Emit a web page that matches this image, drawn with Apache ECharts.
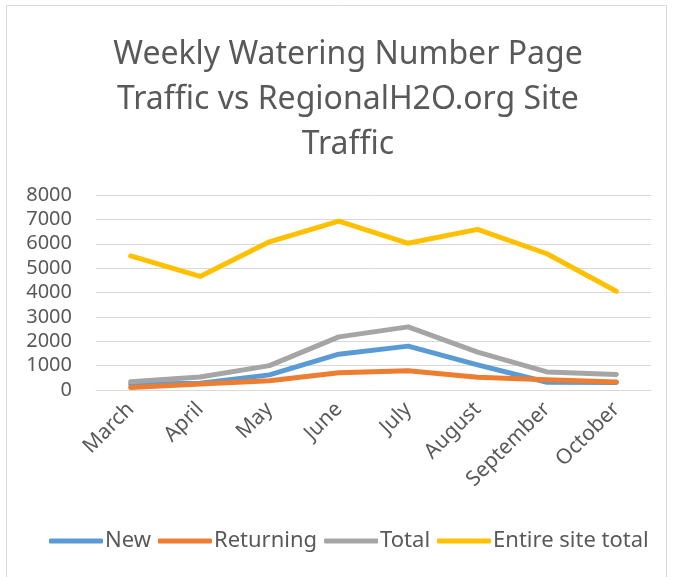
<!DOCTYPE html>
<html>
<head>
<meta charset="utf-8">
<script src="https://cdn.jsdelivr.net/npm/echarts@6/dist/echarts.min.js"></script>
<style>
  html, body { margin: 0; padding: 0; background: #fff; }
  #chart { width: 673px; height: 577px; }
</style>
</head>
<body>
<div id="chart"></div>
<script>
const months = ["March", "April", "May", "June", "July", "August", "September", "October"];
const newVisits = [240, 280, 620, 1470, 1800, 1030, 320, 310];
const returning = [100, 250, 380, 710, 790, 520, 420, 330];
const total = [340, 530, 1000, 2180, 2590, 1550, 740, 640];
const entireSite = [5500, 4660, 6080, 6930, 6020, 6590, 5590, 4050];
const yTicks = [0, 8000, 1000]; // min, max, step

const textColor = "#595959";
const font = "Noto Sans";

const mkLine = (name, data, color) => ({
  name: name,
  type: "line",
  data: data,
  symbol: "none",
  lineStyle: { color: color, width: 5, cap: "round", join: "round" },
  itemStyle: { color: color },
});

const chart = echarts.init(document.getElementById("chart"));
chart.setOption({
  backgroundColor: "#fff",
  animation: false,
  title: {
    text: "Weekly Watering Number Page\nTraffic vs RegionalH2O.org Site\nTraffic",
    left: 343,
    top: 27,
    textAlign: "center",
    textStyle: {
      color: textColor,
      fontFamily: font,
      fontWeight: "normal",
      fontSize: 32,
      lineHeight: 45,
    },
  },
  graphic: [
    {
      type: "rect",
      shape: { x: 6.5, y: 5.5, width: 660, height: 575 },
      style: { fill: "none", stroke: "#d9d9d9", lineWidth: 1 },
      silent: true,
    },
  ],
  grid: { left: 96, right: 22, top: 195, bottom: 187 },
  legend: {
    bottom: 20,
    left: 44,
    itemWidth: 54,
    itemHeight: 5,
    itemGap: 7,
    icon: "roundRect",
    textStyle: { color: textColor, fontFamily: font, fontSize: 22, padding: [0, 0, 0, -3] },
    data: ["New", "Returning", "Total", "Entire site total"],
  },
  xAxis: {
    type: "category",
    data: months,
    boundaryGap: true,
    axisLine: { show: true, lineStyle: { color: "#d9d9d9", width: 1 } },
    axisTick: { show: false },
    axisLabel: {
      color: textColor,
      fontFamily: font,
      fontSize: 21,
      rotate: 45,
      margin: 16,
      interval: 0,
    },
  },
  yAxis: {
    type: "value",
    min: yTicks[0],
    max: yTicks[1],
    interval: yTicks[2],
    axisLine: { show: false },
    axisTick: { show: false },
    splitLine: { lineStyle: { color: "#d9d9d9", width: 1 } },
    axisLabel: {
      color: textColor,
      fontFamily: font,
      fontSize: 20,
      margin: 24,
      formatter: (v) => String(v),
    },
  },
  series: [
    mkLine("New", newVisits, "#5B9BD5"),
    mkLine("Returning", returning, "#ED7D31"),
    mkLine("Total", total, "#A5A5A5"),
    mkLine("Entire site total", entireSite, "#FFC000"),
  ],
});
</script>
</body>
</html>
